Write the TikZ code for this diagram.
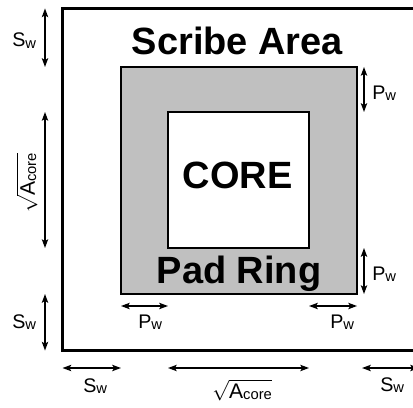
\documentclass[tikz,border=0pt]{standalone}
\usepackage{amsmath}
\usepackage{fontspec}
\setmainfont{Liberation Sans}
\usetikzlibrary{arrows.meta,positioning,calc}

\newcommand\lowsub[1]{\raisebox{-1pt}{\fontsize{10.5}{12}\selectfont #1}}

\begin{document}
\begin{tikzpicture}[
    x=0.025cm, y=-0.025cm,
    >={Stealth[length=2.2mm,width=1.6mm,inset=0.5mm]},
    box/.style={draw,inner sep=0pt,outer sep=0pt},
    scribebox/.style={box,line width=2.4pt},
    padbox/.style={box,line width=1.6pt,fill=padfill},
    corebox/.style={box,line width=1.6pt,fill=white},
    bigtxt/.style={font=\fontsize{27}{32}\selectfont\bfseries,anchor=base},
    dim/.style={<->,line width=0.9pt},
    dimlbl/.style={font=\fontsize{14}{16}\selectfont,inner sep=0pt,anchor=base west},
    rootlbl/.style={dimlbl,font=\fontsize{15}{18}\selectfont},
]

\definecolor{padfill}{RGB}{192,192,192}
\def\Sw{S\lowsub{w}}
\def\Pw{P\lowsub{w}}
\def\sqA{$\sqrt{\text{A\lowsub{core}}}$}

\useasboundingbox (0,0) rectangle (413,407);

% ---------- nested boxes: scribe area, pad ring, core ----------
\node[scribebox,minimum width=8.91cm,minimum height=8.55cm] (scribe) at (240.75,179.5) {};
\node[padbox,minimum width=5.9cm,minimum height=5.675cm] (pad) at (239,180.5) {};
\node[corebox,minimum width=3.525cm,minimum height=3.4cm] (core) at (238.5,180) {};

\node[bigtxt] (scribetxt) at (237.5,55) {Scribe Area};
\node[bigtxt] (coretxt) at (237.5,188) {CORE};
\node[bigtxt] (padtxt) at (239,283) {Pad Ring};

% ---------- dimension lines (columns / rows) ----------
\coordinate (lcol) at (45,0);
\coordinate (rcol) at (364,0);
\coordinate (prow) at (0,306);
\coordinate (brow) at (0,368);

% left column
\draw[dim] (scribe.north -| lcol) -- (pad.north -| lcol);
\draw[dim] (core.north -| lcol) -- (core.south -| lcol);
\draw[dim] (pad.south -| lcol) -- (scribe.south -| lcol);
% right column
\draw[dim] (pad.north -| rcol) -- (core.north -| rcol);
\draw[dim] (core.south -| rcol) -- (pad.south -| rcol);
% row under the pad ring
\draw[dim] (pad.west |- prow) -- (core.west |- prow);
\draw[dim] (core.east |- prow) -- (pad.east |- prow);
% bottom row
\draw[dim] (scribe.west |- brow) -- (pad.west |- brow);
\draw[dim] (core.west |- brow) -- (core.east |- brow);
\draw[dim] ($(pad.east |- brow)+(5,0)$) -- (scribe.east |- brow);

% ---------- dimension labels ----------
\node[dimlbl] (swtop) at (12,47) {\Sw};
\node[rootlbl,anchor=center,rotate=90] (sqaleft) at (27,183) {\sqA};
\node[dimlbl] (swleft) at (12,328) {\Sw};
\foreach \n/\x/\y in {prtop/372/99, prbot/372/280, pbleft/138/328, pbright/330/328}{
  \node[dimlbl] (\n) at (\x,\y) {\Pw};
}
\node[dimlbl] (swbleft) at (83,392) {\Sw};
\node[rootlbl] (sqabot) at (212,398) {\sqA};
\node[dimlbl] (swbright) at (380,391) {\Sw};

\end{tikzpicture}
\end{document}
